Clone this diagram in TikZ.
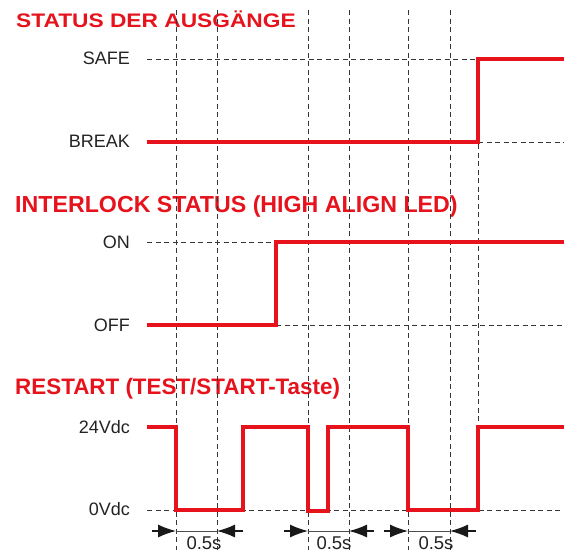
\documentclass[tikz,border=0pt]{standalone}
\usepackage{fontspec}
\setmainfont{Liberation Sans}
\usetikzlibrary{arrows.meta}
\definecolor{sigred}{RGB}{230,18,28}
\definecolor{dashgray}{RGB}{55,55,55}
\definecolor{labgray}{RGB}{35,35,35}
\begin{document}
\begin{tikzpicture}[x=1pt,y=-1pt,
  title/.style={anchor=base west, inner sep=0pt, text=sigred},
  lvl/.style={anchor=base east, inner sep=0pt, text=labgray, font=\fontsize{18}{20}\selectfont},
  durlabel/.style={anchor=base, inner sep=0pt, text=labgray, font=\fontsize{18.5}{20}\selectfont},
  guide/.style={dashgray, line width=1pt, dash pattern=on 5pt off 3.5pt},
  signal/.style={sigred, line width=4pt, line join=miter},
  dimline/.style={black!70, line width=1pt},
  dimtip/.style={-{Latex[length=18pt,width=13pt]}, black!90, line width=1.2pt}]
\useasboundingbox (0,0) rectangle (564,552);

% titles
\node[title] (t1) at (16,27) {\fontsize{19.6}{22}\selectfont\bfseries\scalebox{1.16}[1]{STATUS DER AUSGÄNGE}};
\node[title] (t2) at (15,212) {\fontsize{23.2}{26}\selectfont\bfseries INTERLOCK STATUS (HIGH ALIGN LED)};
\node[title] (t3) at (15,394) {\fontsize{22.4}{26}\selectfont\bfseries RESTART (TEST/START-Taste)};

% level labels
\node[lvl] (lsafe) at (130,64) {SAFE};
\node[lvl] (lbreak) at (130,147) {BREAK};
\node[lvl] (lon) at (130,248) {ON};
\node[lvl] (loff) at (130,331) {OFF};
\node[lvl] (lhi) at (130,433) {24Vdc};
\node[lvl] (llo) at (130,515) {0Vdc};

% vertical guides
\foreach \x/\n in {176/a,217/b,308/c,349/d,408/e,450/f}{
  \coordinate (v\n top) at (\x,10);
  \coordinate (v\n bot) at (\x,550);
  \draw[guide] (v\n top) -- (v\n bot);
}
\coordinate (vgtop) at (478,144);
\coordinate (vgbot) at (478,427);
\draw[guide] (vgtop) -- (vgbot);

% horizontal guides
\coordinate (hsafeA) at (147,59);  \coordinate (hsafeB) at (478,59);
\coordinate (hbrkA) at (478,142);  \coordinate (hbrkB) at (564,142);
\coordinate (honA) at (147,242);   \coordinate (honB) at (276,242);
\coordinate (hoffA) at (276,325);  \coordinate (hoffB) at (564,325);
\coordinate (hloA) at (147,510);   \coordinate (hloB) at (564,510);
\draw[guide] (hsafeA) -- (hsafeB);
\draw[guide] (hbrkA) -- (hbrkB);
\draw[guide] (honA) -- (honB);
\draw[guide] (hoffA) -- (hoffB);
\draw[guide] (hloA) -- (hloB);

% signals
\draw[signal] (147,142) -- (478,142) -- (478,59) -- (564,59);
\draw[signal] (147,325) -- (276,325) -- (276,242) -- (564,242);
\draw[signal] (147,427) -- (176,427) -- (176,510) -- (243,510) -- (243,427)
  -- (308,427) -- (308,511) -- (328,511) -- (328,427) -- (408,427)
  -- (408,510) -- (478,510) -- (478,427) -- (564,427);

% duration markers
\foreach \a/\b/\c/\d/\n in {152/176/217/243/1,284/308/349/374/2,384/408/450/476/3}{
  \coordinate (d\n a) at (\a,531);
  \coordinate (d\n b) at (\b,531);
  \coordinate (d\n c) at (\c,531);
  \coordinate (d\n d) at (\d,531);
  \draw[dimtip] (d\n a) -- (d\n b);
  \draw[dimline] (d\n b) -- (d\n c);
  \draw[dimtip] (d\n d) -- (d\n c);
}
\node[durlabel] (w1) at (204,549) {0.5s};
\node[durlabel] (w2) at (334,549) {0.5s};
\node[durlabel] (w3) at (436,549) {0.5s};
\end{tikzpicture}
\end{document}
